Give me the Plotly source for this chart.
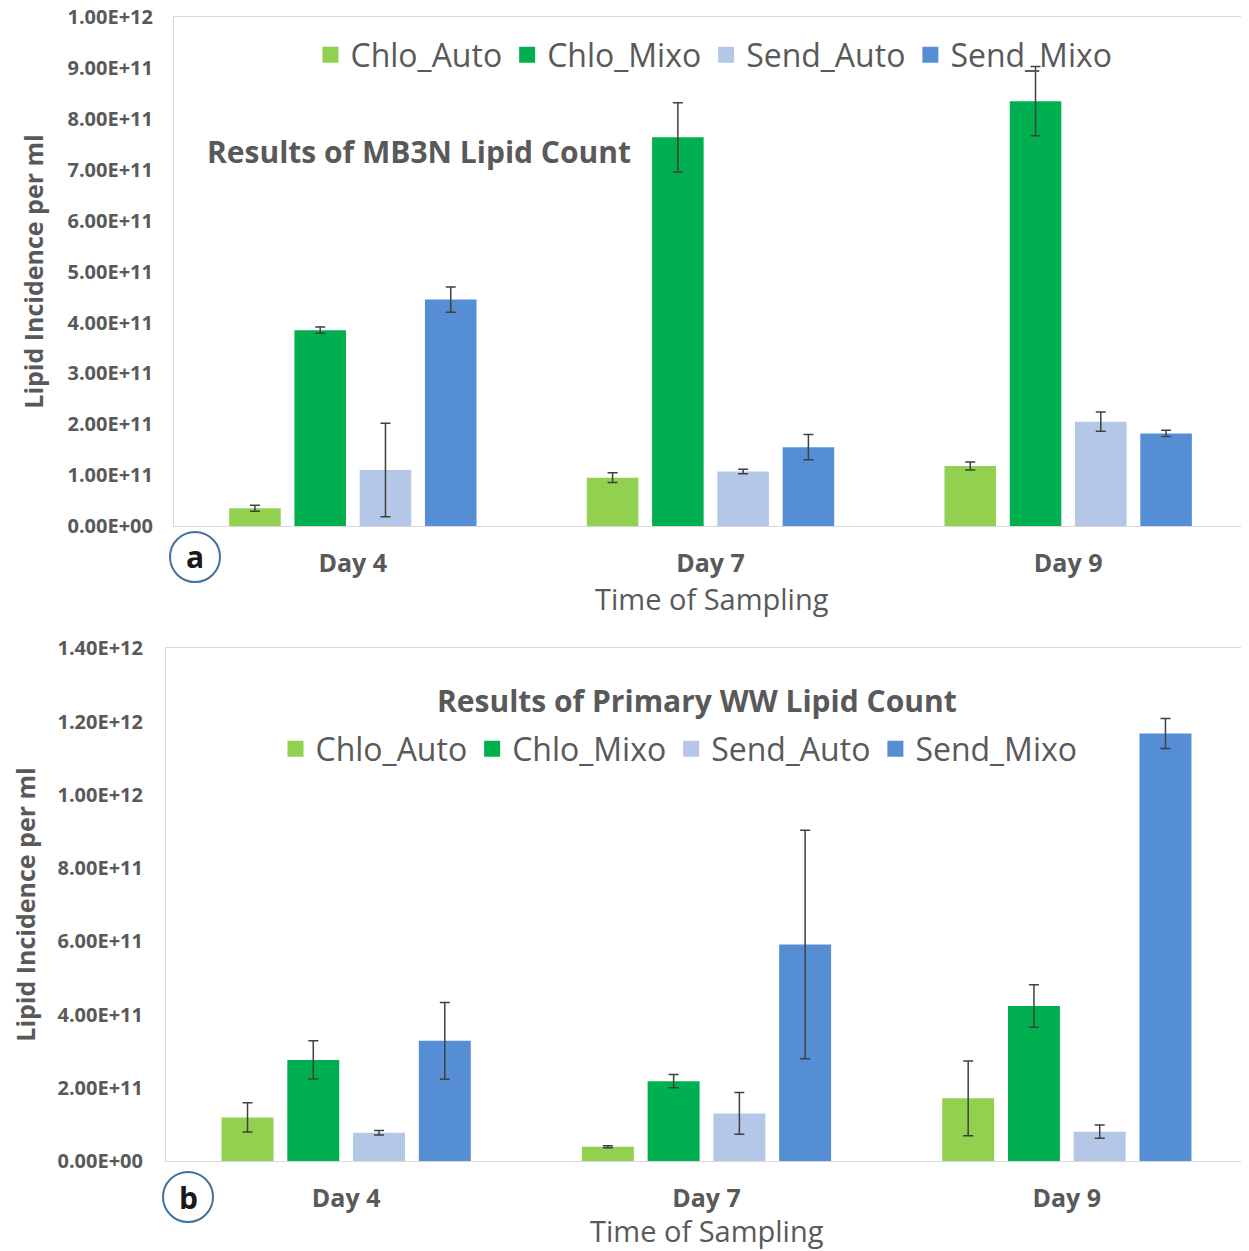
import plotly.graph_objects as go

days = ["Day 4", "Day 7", "Day 9"]
series = ["Chlo_Auto", "Chlo_Mixo", "Send_Auto", "Send_Mixo"]
colors = ["#92D050", "#00B050", "#B4C7E7", "#558ED5"]

# panel a: MB3N
mb3n_chlo_auto = [3.5e10, 9.5e10, 1.18e11]
mb3n_chlo_mixo = [3.85e11, 7.64e11, 8.35e11]
mb3n_send_auto = [1.1e11, 1.07e11, 2.05e11]
mb3n_send_mixo = [4.45e11, 1.55e11, 1.82e11]
mb3n_chlo_auto_err = [6e9, 9.5e9, 8e9]
mb3n_chlo_mixo_err = [6e9, 6.8e10, 6.8e10]
mb3n_send_auto_err = [9.2e10, 4.5e9, 1.9e10]
mb3n_send_mixo_err = [2.5e10, 2.5e10, 6e9]

# panel b: Primary WW
ww_chlo_auto = [1.19e11, 3.9e10, 1.71e11]
ww_chlo_mixo = [2.76e11, 2.18e11, 4.23e11]
ww_send_auto = [7.7e10, 1.3e11, 8.0e10]
ww_send_mixo = [3.28e11, 5.91e11, 1.167e12]
ww_chlo_auto_err = [4e10, 2.5e9, 1.02e11]
ww_chlo_mixo_err = [5.2e10, 1.8e10, 5.8e10]
ww_send_auto_err = [6e9, 5.7e10, 1.8e10]
ww_send_mixo_err = [1.05e11, 3.12e11, 4.1e10]

ticks_a = [i * 1e11 for i in range(11)]
ticks_b = [i * 2e11 for i in range(8)]

GRAY = "#595959"
FRAME = "#D9D9D9"

fig = go.Figure()

panel_a = [mb3n_chlo_auto, mb3n_chlo_mixo, mb3n_send_auto, mb3n_send_mixo]
panel_a_err = [mb3n_chlo_auto_err, mb3n_chlo_mixo_err, mb3n_send_auto_err, mb3n_send_mixo_err]
panel_b = [ww_chlo_auto, ww_chlo_mixo, ww_send_auto, ww_send_mixo]
panel_b_err = [ww_chlo_auto_err, ww_chlo_mixo_err, ww_send_auto_err, ww_send_mixo_err]

panels = [("x", "y", "legend", panel_a, panel_a_err),
          ("x2", "y2", "legend2", panel_b, panel_b_err)]

for xa, ya, leg, data, errs in panels:
    for name, col, vals, err in zip(series, colors, data, errs):
        fig.add_trace(go.Bar(
            x=days, y=vals, name=name, showlegend=False,
            marker=dict(color=col, line=dict(width=0)),
            error_y=dict(type="data", array=err, color="#404040", thickness=1.5, width=5),
            xaxis=xa, yaxis=ya))
        # legend entry with a bigger square swatch, like the original
        fig.add_trace(go.Scatter(
            x=[None], y=[None], mode="markers", name=name,
            marker=dict(symbol="square", size=18, color=col),
            xaxis=xa, yaxis=ya, legend=leg))

W, H = 1249, 1251
OFF = 8  # page body margin: the figure is drawn 8px in from the window corner


def px(x, y):
    # screen pixel -> paper coordinates
    return (x - OFF) / W, 1 - (y - OFF) / H


def xdom(x0, x1):
    return [px(x0, 0)[0], px(x1, 0)[0]]


def ydom(top, bottom):
    return [px(0, bottom)[1], px(0, top)[1]]


axis_common = dict(showline=True, linecolor=FRAME, linewidth=1, mirror=True,
                   showgrid=False, zeroline=False, ticks="", automargin=False,
                   ticklabeloverflow="allow")
xfont = dict(family="Open Sans", size=25, color=GRAY, weight="bold")
yfont = dict(family="Open Sans", size=20, color=GRAY, weight="bold")
xtitle_font = dict(family="Open Sans", size=29, color=GRAY)
legfont = dict(family="Open Sans", size=32, color=GRAY)


def ytitle(standoff):
    return dict(text="Lipid Incidence per ml", standoff=standoff,
                font=dict(family="Open Sans", size=25, color=GRAY, weight="bold"))


fig.update_layout(
    width=W, height=H,
    margin=dict(l=0, r=0, t=0, b=0),
    paper_bgcolor="white", plot_bgcolor="white",
    barmode="group", bargap=0.27, bargroupgap=0.21,
    xaxis=dict(domain=xdom(174, 1247), anchor="y", tickfont=xfont,
               ticklabelstandoff=15, **axis_common),
    yaxis=dict(domain=ydom(17, 526), anchor="x", range=[0, 1.0005e12],
               tickvals=ticks_a, ticktext=[f"{v:.2E}" for v in ticks_a],
               tickfont=yfont, title=ytitle(16), ticklabelstandoff=16, **axis_common),
    xaxis2=dict(domain=xdom(166, 1247), anchor="y2", tickfont=xfont,
                ticklabelstandoff=15, **axis_common),
    yaxis2=dict(domain=ydom(648, 1161), anchor="x2", range=[0, 1.4007e12],
                tickvals=ticks_b, ticktext=[f"{v:.2E}" for v in ticks_b],
                tickfont=yfont, title=ytitle(16), ticklabelstandoff=18, **axis_common),
    legend=dict(orientation="h", x=px(714, 55)[0], y=px(714, 55)[1],
                xanchor="center", yanchor="middle", bgcolor="rgba(0,0,0,0)",
                font=legfont, itemwidth=30),
    legend2=dict(orientation="h", x=px(679, 749)[0], y=px(679, 749)[1],
                 xanchor="center", yanchor="middle", bgcolor="rgba(0,0,0,0)",
                 font=legfont, itemwidth=30),
)

# x axis titles
for cx, cy in [(712, 599), (707, 1230)]:
    fig.add_annotation(text="Time of Sampling", xref="paper", yref="paper",
                       x=px(cx, cy)[0], y=px(cx, cy)[1], xanchor="center", yanchor="middle",
                       showarrow=False, font=xtitle_font)

# chart titles
fig.add_annotation(text="Results of MB3N Lipid Count", xref="paper", yref="paper",
                   x=px(205, 152)[0], y=px(205, 152)[1], xanchor="left", yanchor="middle",
                   showarrow=False, font=dict(family="Open Sans", size=30, color=GRAY, weight="bold"))
fig.add_annotation(text="Results of Primary WW Lipid Count", xref="paper", yref="paper",
                   x=px(697, 700)[0], y=px(697, 700)[1], xanchor="center", yanchor="middle",
                   showarrow=False, font=dict(family="Open Sans", size=30, color=GRAY, weight="bold"))

# panel labels
for lab, cx, cy in [("a", 195, 557), ("b", 188, 1197)]:
    x0, y0 = px(cx - 25, cy + 25)
    x1, y1 = px(cx + 25, cy - 25)
    fig.add_shape(type="circle", xref="paper", yref="paper", x0=x0, x1=x1, y0=y0, y1=y1,
                  line=dict(color="#41719C", width=2), fillcolor="white")
    fig.add_annotation(text=lab, xref="paper", yref="paper", x=px(cx, cy)[0], y=px(cx, cy)[1],
                       showarrow=False, xanchor="center", yanchor="middle",
                       font=dict(family="Open Sans", size=30, color="#1a1a1a", weight="bold"))

fig.write_html("out.html")
